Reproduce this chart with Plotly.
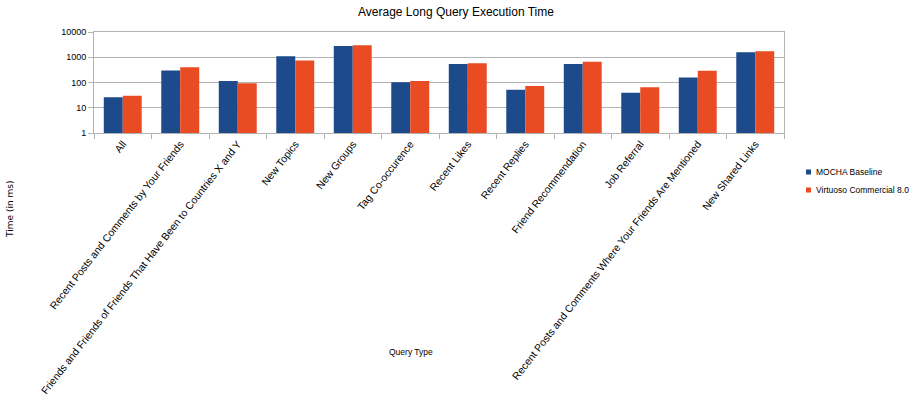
import plotly.graph_objects as go

categories = [
    "All",
    "Recent Posts and Comments by Your Friends",
    "Friends and Friends of Friends That Have Been to Countries X and Y",
    "New Topics",
    "New Groups",
    "Tag Co-occurence",
    "Recent Likes",
    "Recent Replies",
    "Friend Recommendation",
    "Job Referral",
    "Recent Posts and Comments Where Your Friends Are Mentioned",
    "New Shared Links",
]
mocha = [26, 297, 115, 1100, 2760, 103, 535, 52, 535, 39, 156, 1590]
virtuoso = [30, 405, 94, 740, 3000, 115, 585, 73, 660, 65, 290, 1740]
series_names = ["MOCHA Baseline", "Virtuoso Commercial 8.0"]
y_ticks = [1, 10, 100, 1000, 10000]

BLUE = "#1c4a8b"
RED = "#e94b23"
GRID = "#b3b3b3"
colors = [BLUE, RED]

# plot area in pixels: x 94..784, y 32..133
PL, PR, PT, PB = 94, 784, 32, 133
PW, PH = PR - PL, PB - PT


def px_x(x):
    return (x - PL) / PW


def px_y(y):
    return (PB - y) / PH


fig = go.Figure()
for name, vals, col in zip(series_names, [mocha, virtuoso], colors):
    fig.add_trace(go.Bar(x=categories, y=vals, name=name, marker_color=col,
                         marker_line_width=0, showlegend=False))

shapes = []
annotations = [
    dict(text="Time (in ms)", textangle=-90, xref="paper", yref="paper",
         x=px_x(10), y=px_y(210), xanchor="center", yanchor="middle",
         showarrow=False, font=dict(family="DejaVu Sans", size=9)),
    dict(text="Query Type", xref="paper", yref="paper",
         x=px_x(411), y=px_y(352), xanchor="center", yanchor="middle",
         showarrow=False, font=dict(family="Liberation Sans", size=8.5)),
]
# manual legend
for i, (name, col) in enumerate(zip(series_names, colors)):
    cy = 172 + i * 18
    shapes.append(dict(type="rect", xref="paper", yref="paper",
                       x0=px_x(806), x1=px_x(811), y0=px_y(cy + 2.5), y1=px_y(cy - 2.5),
                       fillcolor=col, line=dict(width=0)))
    annotations.append(dict(text=name, xref="paper", yref="paper",
                            x=px_x(814), y=px_y(cy), xanchor="left", yanchor="middle",
                            showarrow=False,
                            font=dict(family="Liberation Sans", size=8.5)))

fig.update_layout(
    width=919, height=401,
    margin=dict(l=PL, r=919 - PR, t=PT, b=401 - PB, autoexpand=False),
    paper_bgcolor="white", plot_bgcolor="white",
    barmode="group", bargap=0.34, bargroupgap=0,
    font=dict(family="Liberation Sans", size=10, color="black"),
    title=dict(text="Average Long Query Execution Time", x=456/919, xanchor="center",
               y=1 - 12/401, yanchor="middle",
               font=dict(family="Liberation Sans", size=12, color="black")),
    showlegend=False,
    xaxis=dict(tickangle=-52, tickson="boundaries", ticks="outside", ticklen=5,
               tickcolor=GRID, showline=True, linecolor=GRID, mirror=True,
               showgrid=False, automargin=False,
               tickfont=dict(family="Liberation Sans", size=10.4)),
    yaxis=dict(type="log", range=[0, 4], tickvals=y_ticks,
               ticktext=[str(v) for v in y_ticks],
               ticks="outside", ticklen=5, tickcolor=GRID,
               showline=True, linecolor=GRID, mirror=True, automargin=False,
               showgrid=True, gridcolor=GRID, gridwidth=1,
               tickfont=dict(family="Liberation Sans", size=9)),
    shapes=shapes,
    annotations=annotations,
)

fig.write_html("out.html")
